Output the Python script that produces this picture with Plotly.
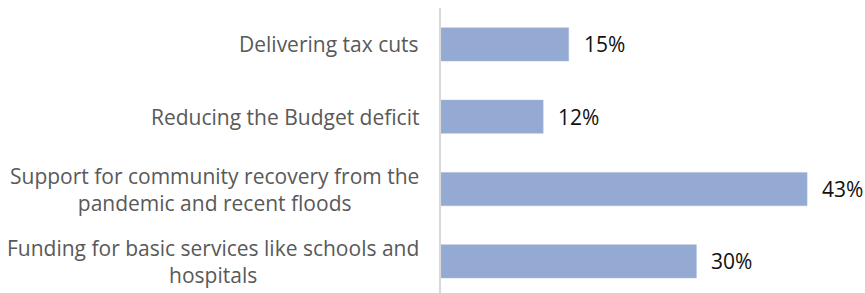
import plotly.graph_objects as go

categories = [
    "Delivering tax cuts",
    "Reducing the Budget deficit",
    "Support for community recovery from the<br>pandemic and recent floods",
    "Funding for basic services like schools and<br>hospitals",
]
values = [15, 12, 43, 30]

BAR_COLOR = "#94aad3"
FONT = "Open Sans"

fig = go.Figure()
fig.add_trace(go.Bar(
    x=values,
    y=categories,
    orientation="h",
    marker=dict(color=BAR_COLOR, line=dict(color="#a9bbdc", width=0.5)),
    width=0.46,
    hoverinfo="skip",
))

annotations = []
for cat, v in zip(categories, values):
    annotations.append(dict(
        x=v, y=cat, xref="x", yref="y",
        text=f"{v}%", showarrow=False, xanchor="left", yanchor="middle",
        xshift=13, font=dict(family=FONT, size=21, color="#111111"),
    ))
    annotations.append(dict(
        x=0, y=cat, xref="x", yref="y",
        text=cat, showarrow=False, xanchor="right", yanchor="middle",
        align="center", xshift=-20,
        font=dict(family=FONT, size=21, color="#595959"),
    ))

fig.update_layout(
    width=865, height=293,
    margin=dict(l=441, r=0, t=8, b=0),
    paper_bgcolor="white", plot_bgcolor="white",
    showlegend=False,
    annotations=annotations,
    xaxis=dict(range=[0, 49.8], showgrid=False, zeroline=False,
               showticklabels=False, showline=False),
    yaxis=dict(range=[3.438, -0.504], showgrid=False, zeroline=False,
               showticklabels=False, showline=True, linecolor="#d9d9d9",
               linewidth=2, ticks=""),
)

fig.write_html(
    "out.html",
    config={"displayModeBar": False},
    post_script="document.body.style.margin='0';document.body.style.overflow='hidden';",
)
